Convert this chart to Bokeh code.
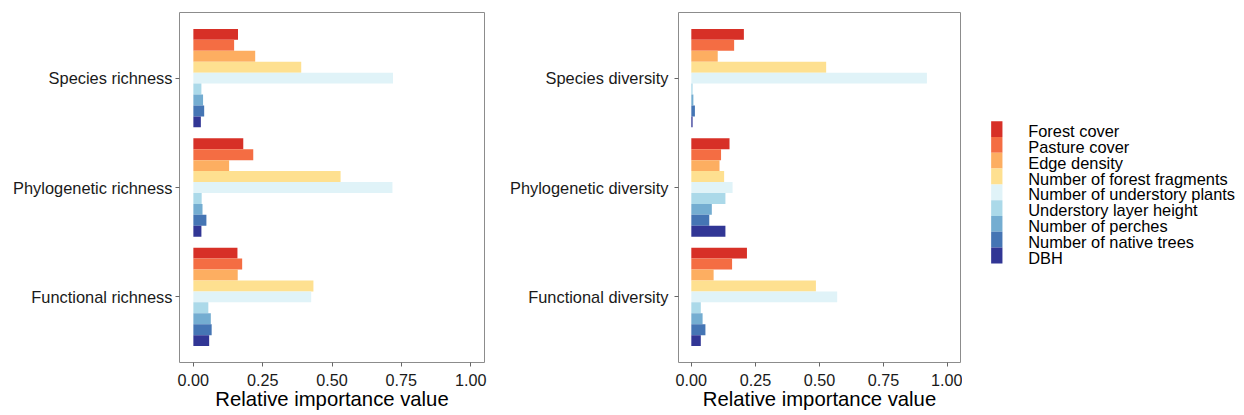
from bokeh.plotting import figure
from bokeh.layouts import row
from bokeh.models import (ColumnDataSource, FactorRange, Range1d, FixedTicker,
                          NumeralTickFormatter)
from bokeh.core.properties import value
from bokeh.transform import dodge
from bokeh.embed import file_html
from bokeh.resources import INLINE

variables = ["Forest cover", "Pasture cover", "Edge density",
             "Number of forest fragments", "Number of understory plants",
             "Understory layer height", "Number of perches",
             "Number of native trees", "DBH"]
colors = ["#d73027", "#f46d43", "#fdae61", "#fee090", "#e0f3f8",
          "#abd9e9", "#74add1", "#4575b4", "#313695"]

richness_groups = ["Species richness", "Phylogenetic richness", "Functional richness"]
diversity_groups = ["Species diversity", "Phylogenetic diversity", "Functional diversity"]

# values in the order of `variables`
species_richness = [0.161, 0.147, 0.223, 0.389, 0.720, 0.029, 0.035, 0.039, 0.027]
phylogenetic_richness = [0.180, 0.216, 0.129, 0.531, 0.718, 0.030, 0.033, 0.047, 0.029]
functional_richness = [0.159, 0.176, 0.160, 0.433, 0.425, 0.054, 0.063, 0.066, 0.057]

species_diversity = [0.205, 0.167, 0.103, 0.526, 0.919, 0.005, 0.008, 0.014, 0.005]
phylogenetic_diversity = [0.149, 0.116, 0.110, 0.128, 0.161, 0.133, 0.080, 0.070, 0.133]
functional_diversity = [0.217, 0.159, 0.087, 0.486, 0.569, 0.037, 0.044, 0.055, 0.037]

x_ticks = [0, 0.25, 0.5, 0.75, 1.0]
x_title = "Relative importance value"

FONT = "Liberation Sans"


def make_panel(groups, rows, width, height, mb_left, mb_right, mb_top, mb_bottom):
    data = {"group": groups}
    for i in range(len(variables)):
        data["v%d" % i] = [r[i] for r in rows]
    src = ColumnDataSource(data)
    yr = FactorRange(factors=list(reversed(groups)), range_padding=0.2 / 3,
                     range_padding_units="percent")
    p = figure(width=width, height=height, y_range=yr, x_range=Range1d(-0.05, 1.05),
               output_backend="svg", toolbar_location=None,
               min_border_left=mb_left, min_border_right=mb_right,
               min_border_top=mb_top, min_border_bottom=mb_bottom)
    for i, c in enumerate(colors):
        p.hbar(y=dodge("group", 0.4 - 0.1 * i, range=p.y_range), left=0,
               right="v%d" % i, height=0.1, source=src, fill_color=c,
               line_color=None)
    p.xgrid.visible = False
    p.ygrid.visible = False
    p.outline_line_color = "#8c8c8c"
    p.outline_line_width = 1
    p.background_fill_color = "white"
    p.border_fill_color = "white"

    p.xaxis.ticker = FixedTicker(ticks=x_ticks)
    p.xaxis.formatter = NumeralTickFormatter(format="0.00")
    p.xaxis.axis_label = x_title
    p.xaxis.axis_label_text_font = FONT
    p.xaxis.axis_label_text_font_style = "normal"
    p.xaxis.axis_label_text_font_size = "20.3px"
    p.xaxis.axis_label_text_color = "black"
    p.xaxis.axis_label_text_line_height = 1.0
    p.xaxis.axis_label_standoff = -1
    for ax in (p.xaxis, p.yaxis):
        ax.axis_line_color = None
        ax.major_tick_line_color = "#666666"
        ax.major_tick_out = 4
        ax.major_tick_in = 0
        ax.minor_tick_line_color = None
        ax.major_label_text_font = FONT
        ax.major_label_text_color = "#1a1a1a"
    p.xaxis.major_label_text_font_size = "16.2px"
    p.xaxis.major_label_text_line_height = 1.0
    p.yaxis.major_label_text_font_size = "16.4px"
    p.xaxis.major_label_standoff = 7
    p.yaxis.major_label_standoff = 3
    return p


p1 = make_panel(richness_groups,
                [species_richness, phylogenetic_richness, functional_richness],
                490, 415, 179, 6, 12, 53)
p2 = make_panel(diversity_groups,
                [species_diversity, phylogenetic_diversity, functional_diversity],
                472, 415, 188, 2, 12, 53)
p2.yaxis.major_label_standoff = 6

# legend panel: one swatch and one label per variable, stacked top to bottom
row_px = 15.8                      # legend row pitch in pixels
frame_top, frame_bottom = 12, 362  # frame shared by the aligned row
first_row_center = 128.6
last_center = first_row_center + row_px * (len(variables) - 1)
y_start = -(frame_bottom - last_center) / row_px
y_end = y_start + (frame_bottom - frame_top) / row_px

p3 = figure(width=282, height=415, output_backend="svg", toolbar_location=None,
            x_axis_location=None, y_axis_location=None, min_border=0,
            x_range=Range1d(0, 282), y_range=Range1d(y_start, y_end))
p3.xgrid.visible = False
p3.ygrid.visible = False
p3.outline_line_color = None
p3.background_fill_color = "white"
p3.border_fill_color = "white"
leg = ColumnDataSource(dict(
    y=list(range(len(variables) - 1, -1, -1)),
    label=variables,
    color=colors,
))
p3.rect(x=34.3, y="y", width=11.3, height=row_px, width_units="screen",
        height_units="screen", fill_color="color", line_color=None, source=leg)
p3.text(x=65.7, y="y", text="label", source=leg, text_baseline="middle",
        text_align="left", y_offset=2, text_font=value(FONT),
        text_font_size="16.4px", text_color="black")

layout = row(p1, p2, p3, spacing=0)
open("out.html", "w").write(file_html(layout, INLINE))
